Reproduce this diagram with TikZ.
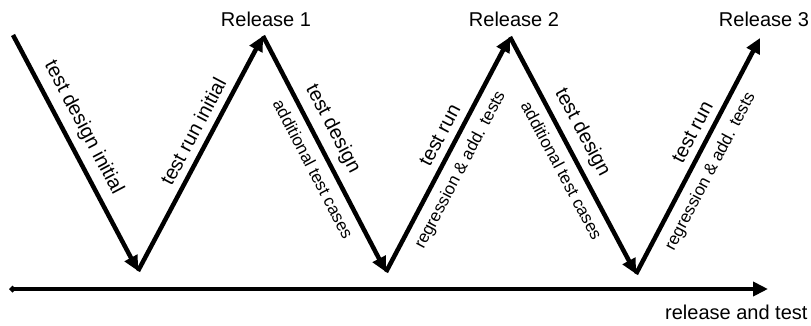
\documentclass[tikz,border=0pt]{standalone}
\usepackage{fontspec}
\setmainfont{Liberation Sans}
\usetikzlibrary{arrows.meta}

\begin{document}
\begin{tikzpicture}[x=1pt,y=1pt,
    flow/.style={line width=4.5pt,-{Triangle[length=15pt,width=14pt]}},
    big/.style={font=\fontsize{20}{24}\selectfont},
    small/.style={font=\fontsize{17}{20}\selectfont}]
\useasboundingbox (0,0) rectangle (811,325);
% corners of the zigzag
\coordinate (s)  at (13,290);
\coordinate (b1) at (138,54);
\coordinate (t1) at (263,289);
\coordinate (b2) at (386,53);
\coordinate (t2) at (510,288);
\coordinate (b3) at (636,51);
\coordinate (t3) at (760,287);
% time axis
\coordinate (al) at (9,36);
\coordinate (ar) at (768,36);
\draw[line width=4pt,{Diamond[length=7pt,width=7pt]}-{Triangle[length=15pt,width=14pt]}] (al) -- (ar);
\node[big,anchor=north east] (axis) at (811,24) {release and test};

\foreach \n/\x in {1/266,2/514,3/764}{% one label per release
    \node[big] (rel\n) at (\x,306) {Release \n};}

\draw[flow] (s) -- (b1) node[big,sloped,above=4pt,pos=.43] (d1) {test design initial};
\draw[flow] (b1) -- (t1) node[big,sloped,above=4pt,pos=.56] (r1) {test run initial};
\draw[flow] (t1) -- (b2) node[big,sloped,above=4pt,pos=.43] (d2) {test design}
                         node[small,sloped,below=5pt,pos=.53] (d2x) {additional test cases};
\draw[flow] (b2) -- (t2) node[big,sloped,above=4pt,pos=.55] (r2) {test run}
                         node[small,sloped,below=5pt,pos=.47] (r2x) {regression \& add. tests};
\draw[flow] (t2) -- (b3) node[big,sloped,above=4pt,pos=.44] (d3) {test design}
                         node[small,sloped,below=5pt,pos=.53] (d3x) {additional test cases};
\draw[flow] (b3) -- (t3) node[big,sloped,above=4pt,pos=.57] (r3) {test run}
                         node[small,sloped,below=5pt,pos=.47] (r3x) {regression \& add. tests};
\end{tikzpicture}
\end{document}
